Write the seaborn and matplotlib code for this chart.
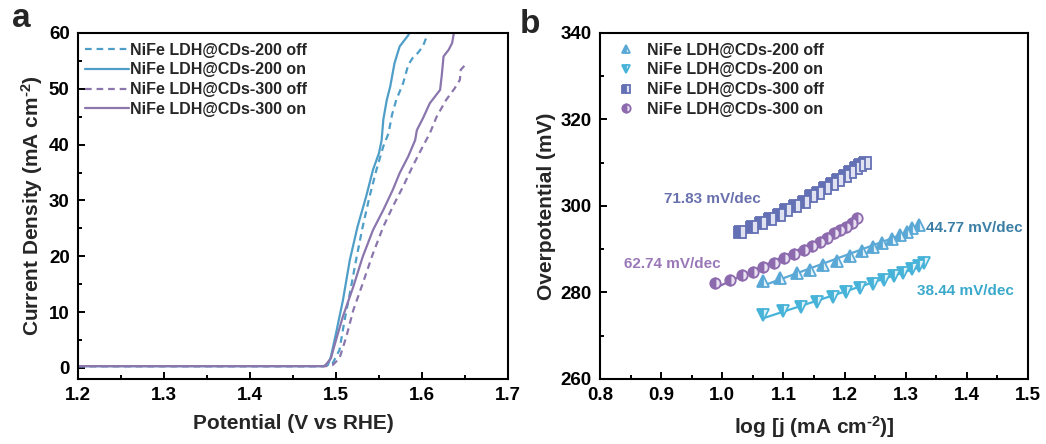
import numpy as np
import pandas as pd
import matplotlib
matplotlib.use("Agg")
import matplotlib.pyplot as plt
import seaborn as sns
from matplotlib.ticker import MultipleLocator

# ---------------- data: panel a (LSV) ----------------
x_200_off = [1.20, 1.30, 1.40, 1.485, 1.496, 1.504, 1.510, 1.516, 1.524, 1.531, 1.539, 1.547, 1.555,
             1.561, 1.565, 1.570, 1.578, 1.584, 1.589, 1.595, 1.601, 1.607]
y_200_off = [0.3, 0.3, 0.3, 0.3, 0.8, 3.2, 8.6, 13.3, 19.9, 25.3, 30.7, 35.5, 39.7,
             42.0, 45.3, 48.0, 51.0, 54.3, 55.5, 56.4, 57.6, 60.0]
x_200_on = [1.20, 1.30, 1.40, 1.485, 1.4905, 1.494, 1.500, 1.508, 1.516, 1.525, 1.535, 1.543, 1.550,
            1.553, 1.555, 1.559, 1.563, 1.568, 1.574, 1.580, 1.584, 1.586]
y_200_on = [0.3, 0.3, 0.3, 0.3, 0.5, 2.0, 6.2, 12.1, 19.3, 25.3, 30.7, 35.5, 38.5,
            40.8, 44.5, 48.0, 50.4, 54.6, 57.6, 58.8, 59.6, 60.3]
x_300_off = [1.20, 1.30, 1.40, 1.488, 1.496, 1.504, 1.512, 1.520, 1.531, 1.543, 1.555, 1.566, 1.578,
             1.589, 1.601, 1.609, 1.617, 1.628, 1.638, 1.644, 1.645, 1.652]
y_300_off = [0.3, 0.3, 0.3, 0.3, 0.5, 1.7, 5.6, 10.3, 15.1, 20.5, 25.3, 28.9, 32.5,
             36.1, 39.7, 42.0, 45.0, 48.0, 50.1, 51.6, 53.4, 54.6]
x_300_on = [1.20, 1.30, 1.40, 1.4867, 1.494, 1.500, 1.508, 1.520, 1.531, 1.543, 1.555, 1.566, 1.574,
            1.584, 1.592, 1.594, 1.601, 1.609, 1.621, 1.623, 1.625, 1.631, 1.635, 1.637]
y_300_on = [0.3, 0.3, 0.3, 0.3, 1.7, 5.0, 9.2, 14.5, 19.9, 24.7, 28.3, 31.9, 34.9,
            37.9, 40.8, 42.6, 44.7, 47.4, 49.8, 52.5, 55.8, 57.0, 58.2, 60.0]

# ---------------- data: panel b (Tafel) ----------------
tx_200_off = [1.067, 1.094, 1.122, 1.143, 1.165, 1.187, 1.209, 1.228, 1.246, 1.262, 1.277, 1.291, 1.302, 1.311, 1.321]
ty_200_off = [282.6, 283.4, 284.4, 285.2, 286.3, 287.2, 288.5, 289.5, 290.5, 291.5, 292.4, 293.3, 294.1, 294.9, 295.5]
tx_200_on = [1.067, 1.099, 1.128, 1.155, 1.181, 1.203, 1.225, 1.246, 1.264, 1.281, 1.296, 1.310, 1.321, 1.330]
ty_200_on = [274.8, 275.8, 276.7, 277.9, 278.9, 280.0, 281.0, 282.0, 282.9, 283.8, 284.6, 285.4, 286.2, 286.9]
tx_300_off = [1.029, 1.048, 1.064, 1.078, 1.092, 1.105, 1.119, 1.133, 1.145, 1.157, 1.168, 1.179, 1.190,
              1.200, 1.209, 1.218, 1.226, 1.234]
ty_300_off = [294.1, 295.1, 296.0, 297.0, 297.9, 299.1, 300.0, 301.0, 302.2, 303.1, 304.1, 305.1, 306.0,
              307.0, 307.9, 308.7, 309.5, 310.0]
tx_300_on = [0.988, 1.013, 1.032, 1.051, 1.067, 1.085, 1.101, 1.117, 1.133, 1.146, 1.160, 1.172, 1.183,
             1.193, 1.202, 1.212, 1.221]
ty_300_on = [282.1, 283.0, 284.0, 284.8, 286.0, 286.9, 287.9, 288.9, 289.8, 290.8, 291.7, 292.7, 293.7,
             294.5, 295.2, 296.1, 297.2]

labels = ["NiFe LDH@CDs-200 off", "NiFe LDH@CDs-200 on", "NiFe LDH@CDs-300 off", "NiFe LDH@CDs-300 on"]
slope_labels = ["44.77 mV/dec", "38.44 mV/dec", "71.83 mV/dec", "62.74 mV/dec"]

# ---------------- style ----------------
sns.set_theme(style="white")
plt.rcParams['font.family'] = ['Liberation Sans', 'DejaVu Sans']
plt.rcParams['font.weight'] = 'bold'
plt.rcParams['axes.labelweight'] = 'bold'
plt.rcParams['mathtext.fontset'] = 'custom'
plt.rcParams['mathtext.rm'] = 'Liberation Sans:bold'
plt.rcParams['mathtext.bf'] = 'Liberation Sans:bold'
plt.rcParams['mathtext.default'] = 'bf'

c200 = "#4f9ec8"
c300 = "#8a76ad"
m_colors = ["#5aa8d6", "#48b3d8", "#6470b4", "#8c6aad"]
m_alt = ["#e3f1f9", "#dff2f8", "#e0e2f2", "#e9e0f1"]
txt_colors = ["#3b7fa6", "#3aa9cc", "#6870ad", "#9a78b8"]

fig = plt.figure(figsize=(10.46, 4.44), dpi=100)
ax1 = fig.add_axes([0.0746, 0.1464, 0.4111, 0.7793])
ax2 = fig.add_axes([0.5736, 0.1464, 0.4092, 0.7793])

# ---- panel a ----
series_a = [(x_200_off, y_200_off, c200, (0, (3, 2.2))),
            (x_200_on, y_200_on, c200, "-"),
            (x_300_off, y_300_off, c300, (0, (3, 2.2))),
            (x_300_on, y_300_on, c300, "-")]
for (xs, ys, col, ls), lab in zip(series_a, labels):
    df = pd.DataFrame({"x": xs, "y": ys})
    sns.lineplot(data=df, x="x", y="y", ax=ax1, color=col, linestyle=ls, lw=1.6,
                 sort=False, estimator=None, label=lab)

ax1.set_xlim(1.2, 1.7)
ax1.set_ylim(-2, 60)
ax1.xaxis.set_major_locator(MultipleLocator(0.1))
ax1.xaxis.set_minor_locator(MultipleLocator(0.05))
ax1.yaxis.set_major_locator(MultipleLocator(10))
ax1.yaxis.set_minor_locator(MultipleLocator(5))
ax1.set_xlabel("Potential (V vs RHE)", fontsize=15, labelpad=7)
ax1.set_ylabel(r"Current Density (mA cm$^{\text{-2}}$)", fontsize=15, labelpad=3)
ax1.legend(loc="upper left", frameon=False, fontsize=11.5, handlelength=2.7,
           handletextpad=0.1, labelspacing=0.3, borderaxespad=0.2,
           bbox_to_anchor=(-0.005, 1.0))

# ---- panel b ----
series_b = [(tx_200_off, ty_200_off, "^"), (tx_200_on, ty_200_on, "v"),
            (tx_300_off, ty_300_off, "s"), (tx_300_on, ty_300_on, "o")]
handles = []
for i, (xs, ys, mk) in enumerate(series_b):
    df = pd.DataFrame({"x": xs, "y": ys})
    sns.regplot(data=df, x="x", y="y", ax=ax2, scatter=False, ci=None,
                line_kws=dict(color=m_colors[i], lw=1.6))
    h, = ax2.plot(xs, ys, linestyle="none", marker=mk, ms=8 if mk != "o" else 7.5,
                  mec=m_colors[i], mfc=m_colors[i], mfcalt=m_alt[i], fillstyle="left",
                  mew=1.3, label=labels[i])
    handles.append(h)

ax2.set_xlim(0.8, 1.5)
ax2.set_ylim(260, 340)
ax2.xaxis.set_major_locator(MultipleLocator(0.1))
ax2.xaxis.set_minor_locator(MultipleLocator(0.05))
ax2.yaxis.set_major_locator(MultipleLocator(20))
ax2.yaxis.set_minor_locator(MultipleLocator(10))
ax2.set_xlabel(r"log [j (mA cm$^{\text{-2}}$)]", fontsize=15, labelpad=7)
ax2.set_ylabel("Overpotential (mV)", fontsize=15, labelpad=3)
ax2.legend(handles=handles, labels=labels, loc="upper left", frameon=False, fontsize=11.5,
           handlelength=1.0, handletextpad=0.8, labelspacing=0.3, borderaxespad=0.2,
           bbox_to_anchor=(0.02, 1.0), markerscale=0.8)

slope_pos = [(1.413, 295.0), (1.397, 280.4), (0.983, 301.7), (0.919, 286.5)]
for (sx, sy), s, c in zip(slope_pos, slope_labels, txt_colors):
    ax2.text(sx, sy, s, color=c, fontsize=11, fontweight="bold", ha="center", va="center")

for ax in (ax1, ax2):
    for sp in ax.spines.values():
        sp.set_visible(True)
        sp.set_color("black")
        sp.set_linewidth(1.5)
    ax.tick_params(which="both", direction="in", top=False, right=False, left=True, bottom=True,
                   width=1.4, colors="black", labelsize=13.5)
    ax.tick_params(which="major", length=5, pad=6)
    ax.tick_params(which="minor", length=3)
    for t in ax.get_xticklabels() + ax.get_yticklabels():
        t.set_fontweight("bold")
    ax.set_facecolor("white")

fig.text(0.011, 0.94, "a", fontsize=24, fontweight="bold", ha="left", va="baseline")
fig.text(0.497, 0.925, "b", fontsize=24, fontweight="bold", ha="left", va="baseline")

fig.savefig("out.png", dpi=100, facecolor="white")
